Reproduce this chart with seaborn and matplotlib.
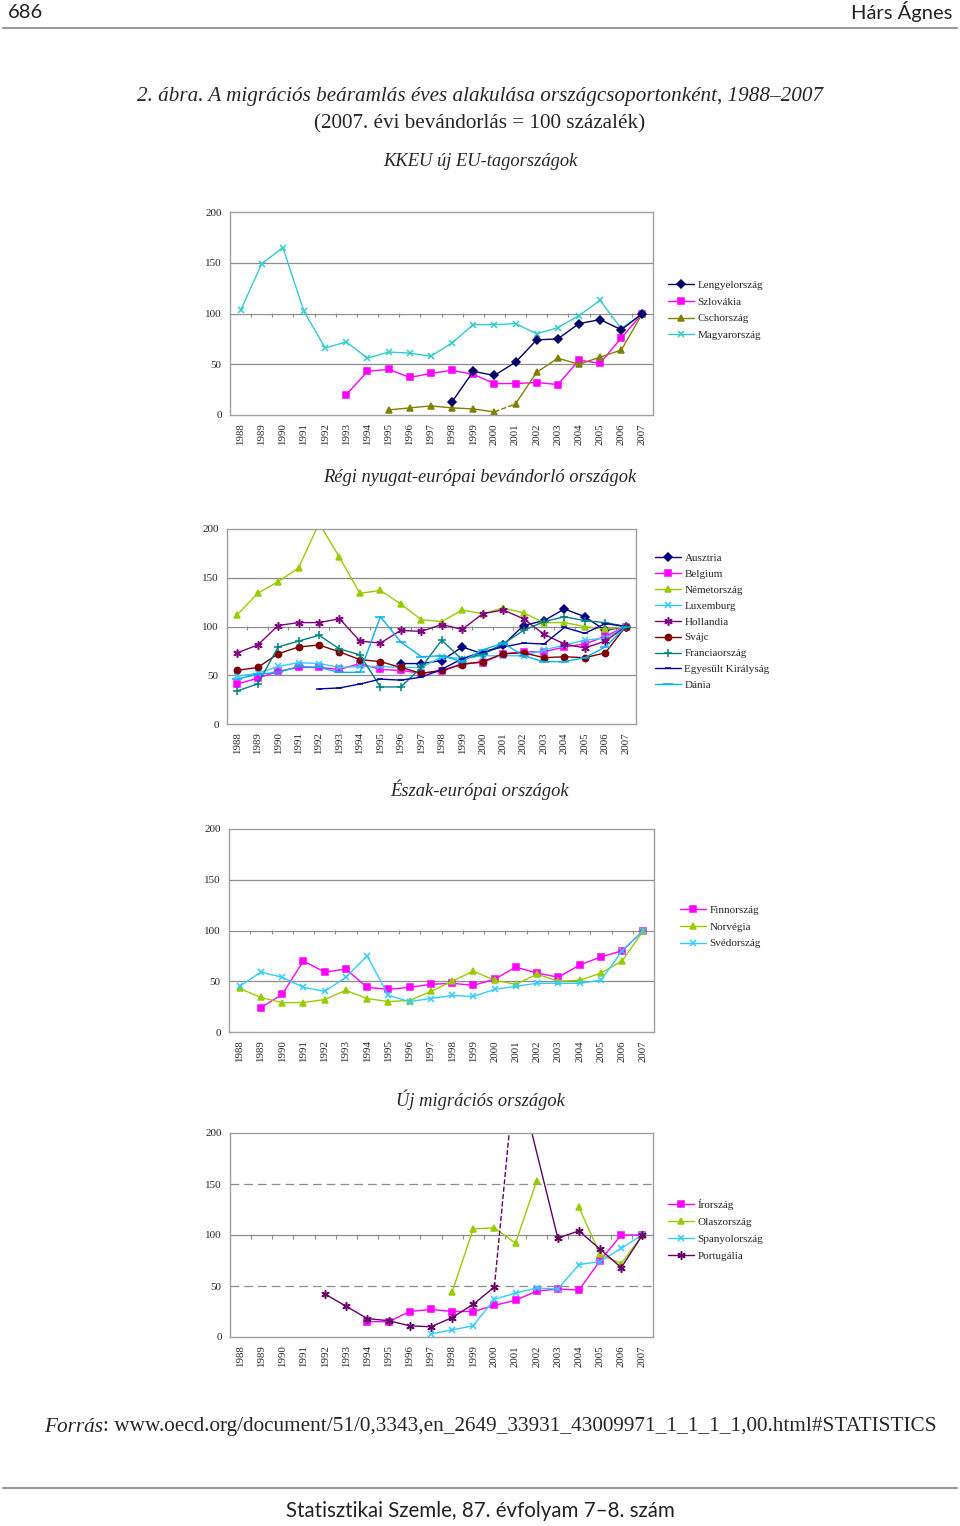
import numpy as np
import pandas as pd
import matplotlib
matplotlib.use('Agg')
import matplotlib.pyplot as plt
import seaborn as sns
from matplotlib.lines import Line2D

W, H = 960, 1526
nan = np.nan

evek = list(range(1988, 2008))

# KKEU új EU-tagországok
lengyelorszag = [nan, nan, nan, nan, nan, nan, nan, nan, nan, nan, 13, 43, 39, 52, 74, 75, 90, 94, 84, 100]
szlovakia = [nan, nan, nan, nan, nan, 20, 43, 45, 37, 41, 44, 40, 31, 31, 32, 30, 54, 51, 76, 100]
csehorszag = [nan, nan, nan, nan, nan, nan, nan, 5, 7, 9, 7, 6, 3, 11, 42, 56, 50, 57, 64, 100]
magyarorszag = [103, 149, 165, 102, 66, 72, 56, 62, 61, 58, 71, 89, 89, 90, 80, 86, 98, 113, 85, 100]

# Régi nyugat-európai bevándorló országok
ausztria = [nan, nan, nan, nan, nan, nan, nan, nan, 62, 62, 65, 79, 72, 81, 101, 106, 118, 110, 96, 100]
belgium = [41, 47, 54, 58, 58, 56, 62, 56, 55, 52, 54, 62, 63, 72, 74, 74, 79, 82, 90, 100]
nemetorszag = [112, 134, 146, 160, 206, 171, 134, 137, 123, 107, 105, 117, 113, 119, 114, 104, 104, 100, 97, 100]
luxemburg = [49, 52, 59, 63, 62, 58, 59, 59, 58, 58, 69, 67, 70, 70, 70, 76, 81, 86, 88, 100]
hollandia = [73, 81, 101, 104, 104, 108, 85, 83, 96, 95, 102, 97, 113, 117, 108, 92, 82, 78, 85, 100]
svajc = [55, 58, 72, 79, 81, 74, 66, 64, 58, 52, 55, 61, 64, 72, 73, 68, 69, 68, 73, 100]
franciaorszag = [34, 41, 79, 85, 91, 77, 71, 38, 38, 58, 86, 66, 72, 82, 96, 105, 110, 106, 104, 100]
egyesult_kiralysag = [nan, nan, nan, nan, 36, 37, 41, 46, 45, 48, 56, 67, 74, 79, 83, 82, 99, 93, 103, 100]
dania = [46, 51, 53, 59, 58, 53, 53, 110, 84, 69, 70, 64, 76, 83, 70, 64, 64, 68, 79, 100]

# Észak-európai országok
finnorszag = [nan, 24, 37, 70, 59, 62, 44, 42, 44, 47, 48, 46, 52, 64, 58, 54, 66, 74, 80, 100]
norvegia = [43, 34, 29, 29, 32, 41, 33, 30, 31, 40, 50, 60, 51, 47, 57, 50, 51, 58, 70, 100]
svedorszag = [45, 59, 54, 44, 40, 54, 75, 36, 30, 33, 36, 35, 42, 45, 48, 48, 48, 51, 80, 100]

# Új migrációs országok
irorszag = [nan, nan, nan, nan, nan, nan, 15, 15, 25, 27, 25, 25, 31, 36, 45, 47, 46, 75, 100, 100]
olaszorszag = [nan, nan, nan, nan, nan, nan, nan, nan, nan, nan, 44, 106, 107, 92, 153, nan, 127, 81, 72, 100]
spanyolorszag = [nan, nan, nan, nan, nan, nan, nan, nan, nan, 3, 7, 11, 37, 43, 48, 47, 71, 74, 87, 100]
portugalia = [nan, nan, nan, nan, 42, 30, 18, 16, 11, 10, 19, 32, 49, 265, nan, 97, 104, 86, 68, 100]

SZURKE = '#8c8c8c'
STAR = (6, 2, 0)

sns.set_style('white')
plt.rcParams['font.family'] = ['Liberation Serif', 'DejaVu Serif']

fig = plt.figure(figsize=(W / 100, H / 100), dpi=100)


def px_ax(l, t, r, b):
    return fig.add_axes([l / W, 1 - b / H, (r - l) / W, (b - t) / H])


def alap(ax, szaggatott=False):
    ax.set_xlim(1987.5, 2007.5)
    ax.set_ylim(0, 200)
    ax.set_yticks([0, 50, 100, 150, 200])
    ax.set_xticks(evek)
    ax.set_xticklabels([str(e) for e in evek], rotation=90, fontsize=7.8)
    ax.tick_params(axis='x', length=0, pad=6)
    ax.tick_params(axis='y', length=3, color='#a0a0a0', labelsize=8, pad=3)
    for s in ax.spines.values():
        s.set_color('#a0a0a0')
        s.set_linewidth(1)
    for v in (50, 100, 150):
        if szaggatott and v != 100:
            ax.axhline(v, color=SZURKE, lw=0.9, dashes=(7, 4), zorder=0)
        else:
            ax.axhline(v, color=SZURKE, lw=0.9, zorder=0)
    sec = ax.secondary_xaxis(0.5)
    sec.set_xticks(np.arange(1987.5, 2008, 1))
    sec.tick_params(direction='in', length=3, color=SZURKE, labeltop=False, labelbottom=False)
    for s in sec.spines.values():
        s.set_visible(False)
    ax.set_xlabel('')
    ax.set_ylabel('')


def rajzol(ax, ertekek, szin, jel, ms=4.5, tol=1988, ig=2007, vonal='-', jelolo=True):
    df = pd.DataFrame({'ev': evek, 'ertek': ertekek})
    df = df[(df['ev'] >= tol) & (df['ev'] <= ig)].dropna()
    kws = dict(color=szin, lw=1.0, estimator=None, ax=ax)
    if jelolo:
        kws.update(marker=jel, markersize=ms, markeredgecolor=szin, markerfacecolor=szin, markeredgewidth=1.1)
    if vonal != '-':
        kws.update(dashes=False, linestyle=vonal)
    sns.lineplot(data=df, x='ev', y='ertek', **kws)


def jelmagyarazat(elemek, x, y, lepes):
    kezek = [Line2D([0], [0], color=c, lw=1.0, marker=m, markersize=ms, markeredgecolor=c,
                    markerfacecolor=c, markeredgewidth=1.1) for _, c, m, ms in elemek]
    cimkek = [e[0] for e in elemek]
    fs = 8
    fig.legend(kezek, cimkek, loc='upper left', bbox_to_anchor=(x / W, 1 - (y - 6) / H),
               bbox_transform=fig.transFigure, frameon=False, fontsize=fs, borderpad=0,
               handlelength=2.3, handletextpad=0.35, labelspacing=(lepes - 11) / 11, borderaxespad=0)


# ---- 1. panel ----
ax1 = px_ax(230, 212, 653, 415)
rajzol(ax1, magyarorszag, '#33cccc', 'x', ms=5)
rajzol(ax1, szlovakia, '#ff00ff', 's')
rajzol(ax1, csehorszag, '#808000', '^', ms=5, ig=2000)
rajzol(ax1, csehorszag, '#808000', '^', tol=2000, ig=2001, vonal='--', jelolo=False)
rajzol(ax1, csehorszag, '#808000', '^', ms=5, tol=2001)
rajzol(ax1, lengyelorszag, '#000066', 'D', ms=4)
alap(ax1)
jelmagyarazat([('Lengyelország', '#000066', 'D', 4), ('Szlovákia', '#ff00ff', 's', 4.5),
               ('Cschország', '#808000', '^', 5), ('Magyarország', '#33cccc', 'x', 5)], 668, 286, 18)

# ---- 2. panel ----
ax2 = px_ax(227, 529, 636, 724)
sorok2 = [('Ausztria', ausztria, '#000080', 'D', 4),
          ('Belgium', belgium, '#ff00ff', 's', 4.5),
          ('Németország', nemetorszag, '#99cc00', '^', 5),
          ('Luxemburg', luxemburg, '#33ccff', 'x', 5),
          ('Hollandia', hollandia, '#800080', STAR, 6),
          ('Svájc', svajc, '#800000', 'o', 4.5),
          ('Franciaország', franciaorszag, '#008080', '+', 6),
          ('Egyesült Királyság', egyesult_kiralysag, '#0000aa', '_', 4),
          ('Dánia', dania, '#00b0f0', '_', 7)]
for nev, ert, szin, jel, ms in sorok2:
    rajzol(ax2, ert, szin, jel, ms=ms)
alap(ax2)
jelmagyarazat([(n, c, m, ms) for n, _, c, m, ms in sorok2], 655, 559, 17.1)

# ---- 3. panel ----
ax3 = px_ax(229, 829, 654, 1032)
rajzol(ax3, finnorszag, '#ff00ff', 's')
rajzol(ax3, norvegia, '#99cc00', '^', ms=5)
rajzol(ax3, svedorszag, '#33ccff', 'x', ms=5)
alap(ax3)
jelmagyarazat([('Finnország', '#ff00ff', 's', 4.5), ('Norvégia', '#99cc00', '^', 5),
               ('Svédország', '#33ccff', 'x', 5)], 680, 911, 18)

# ---- 4. panel ----
ax4 = px_ax(230, 1133, 653, 1337)
rajzol(ax4, irorszag, '#ff00ff', 's')
rajzol(ax4, olaszorszag, '#99cc00', '^', ms=5, ig=2002)
rajzol(ax4, olaszorszag, '#99cc00', '^', ms=5, tol=2004)
rajzol(ax4, spanyolorszag, '#33ccff', 'x', ms=5)
rajzol(ax4, portugalia, '#660066', STAR, ms=6, ig=2000)
rajzol(ax4, portugalia, '#660066', STAR, tol=2000, ig=2001, vonal='--', jelolo=False)
rajzol(ax4, portugalia, '#660066', STAR, ms=6, tol=2001)
alap(ax4, szaggatott=True)
jelmagyarazat([('Írország', '#ff00ff', 's', 4.5), ('Olaszország', '#99cc00', '^', 5),
               ('Spanyolország', '#33ccff', 'x', 5), ('Portugália', '#660066', STAR, 6)], 668, 1205, 18)

# ---- szövegek ----
def szoveg(x, y, s, **kw):
    return fig.text(x / W, 1 - y / H, s, va='center', **kw)


fejlec = ['Lato', 'DejaVu Sans']
szoveg(8, 12, '686', ha='left', fontsize=14.5, family=fejlec, color='#222222')
szoveg(952, 12, 'Hárs Ágnes', ha='right', fontsize=14.5, family=fejlec, color='#222222')
fig.add_artist(Line2D([3 / W, 957 / W], [1 - 28 / H, 1 - 28 / H], color='#999999', lw=1.5))

szoveg(480, 96, '2. ábra. A migrációs beáramlás éves alakulása országcsoportonként, 1988–2007',
       ha='center', fontsize=15.2, style='italic')
szoveg(480, 124, '(2007. évi bevándorlás = 100 százalék)', ha='center', fontsize=15.2)
szoveg(480, 162, 'KKEU új EU-tagországok', ha='center', fontsize=13.3, style='italic')
szoveg(480, 478, 'Régi nyugat-európai bevándorló országok', ha='center', fontsize=13.3, style='italic')
szoveg(480, 790, 'Észak-európai országok', ha='center', fontsize=13.3, style='italic')
szoveg(480, 1100, 'Új migrációs országok', ha='center', fontsize=13.3, style='italic')

# Forrás sor: dőlt + álló rész egymás után, középre igazítva
fig.canvas.draw()
r = fig.canvas.get_renderer()
t1 = szoveg(0, 1427, 'Forrás', ha='left', fontsize=15.3, style='italic')
t2 = szoveg(0, 1427, ': www.oecd.org/document/51/0,3343,en_2649_33931_43009971_1_1_1_1,00.html#STATISTICS',
            ha='left', fontsize=15.3)
w1 = t1.get_window_extent(r).width
w2 = t2.get_window_extent(r).width
x0 = 490 - (w1 + w2) / 2
t1.set_x(x0 / W)
t2.set_x((x0 + w1) / W)

fig.add_artist(Line2D([3 / W, 957 / W], [1 - 1488 / H, 1 - 1488 / H], color='#999999', lw=1.5))
szoveg(480, 1511, 'Statisztikai Szemle, 87. évfolyam 7–8. szám', ha='center', fontsize=14.8,
       family=fejlec, color='#222222')

fig.savefig('out.png', dpi=100, facecolor='white')
